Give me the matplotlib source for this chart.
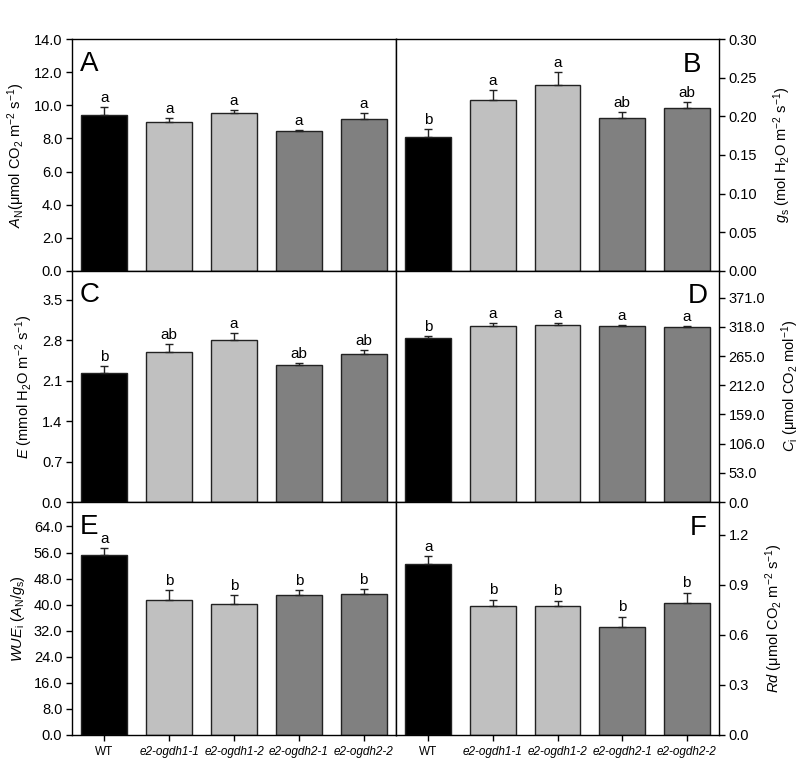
import matplotlib
matplotlib.use("Agg")
import matplotlib.pyplot as plt
import numpy as np

plt.rcParams['font.family'] = ['Liberation Sans', 'DejaVu Sans']
plt.rcParams['mathtext.fontset'] = 'custom'
plt.rcParams['mathtext.rm'] = 'Liberation Sans'
plt.rcParams['mathtext.it'] = 'Liberation Sans:italic'
plt.rcParams['mathtext.bf'] = 'Liberation Sans:bold'

genotypes = ["WT", "e2-ogdh1-1", "e2-ogdh1-2", "e2-ogdh2-1", "e2-ogdh2-2"]
bar_colors = ["#000000", "#c0c0c0", "#c0c0c0", "#808080", "#808080"]

an_mean = [9.45, 9.01, 9.56, 8.44, 9.15]
an_err = [0.43, 0.20, 0.16, 0.09, 0.41]
an_sig = ["a", "a", "a", "a", "a"]

gs_mean = [0.1727, 0.2216, 0.2407, 0.1983, 0.2113]
gs_err = [0.0108, 0.0122, 0.0164, 0.0069, 0.0069]
gs_sig = ["b", "a", "a", "ab", "ab"]

e_mean = [2.236, 2.586, 2.793, 2.362, 2.563]
e_err = [0.109, 0.144, 0.127, 0.046, 0.063]
e_sig = ["b", "ab", "a", "ab", "ab"]

ci_mean = [297.9, 320.3, 320.9, 319.1, 317.3]
ci_err = [3.6, 4.2, 4.2, 1.8, 2.4]
ci_sig = ["b", "a", "a", "a", "a"]

wue_mean = [55.1, 41.5, 40.3, 42.95, 43.3]
wue_err = [2.3, 3.1, 2.6, 1.45, 1.6]
wue_sig = ["a", "b", "b", "b", "b"]

rd_mean = [1.026, 0.773, 0.773, 0.644, 0.793]
rd_err = [0.046, 0.038, 0.032, 0.065, 0.060]
rd_sig = ["a", "b", "b", "b", "b"]

panels = [
    dict(mean=an_mean, err=an_err, sig=an_sig, ylim=14.0, ticks=np.arange(0, 14.01, 2.0), fmt="%.1f",
         label=r"$A_{\mathrm{N}}$(μmol CO$_2$ m$^{-2}$ s$^{-1}$)", letter="A", side="left", lx=0.025),
    dict(mean=gs_mean, err=gs_err, sig=gs_sig, ylim=0.30, ticks=np.arange(0, 0.301, 0.05), fmt="%.2f",
         label=r"$g_{\mathrm{s}}$ (mol H$_2$O m$^{-2}$ s$^{-1}$)", letter="B", side="right", lx=0.945),
    dict(mean=e_mean, err=e_err, sig=e_sig, ylim=4.0, ticks=np.arange(0, 3.51, 0.7), fmt="%.1f",
         label=r"$E$ (mmol H$_2$O m$^{-2}$ s$^{-1}$)", letter="C", side="left", lx=0.025),
    dict(mean=ci_mean, err=ci_err, sig=ci_sig, ylim=420.0, ticks=np.arange(0, 371.1, 53.0), fmt="%.1f",
         label=r"$C_{\mathrm{i}}$ (μmol CO$_2$ mol$^{-1}$)", letter="D", side="right", lx=0.965),
    dict(mean=wue_mean, err=wue_err, sig=wue_sig, ylim=71.5, ticks=np.arange(0, 64.1, 8.0), fmt="%.1f",
         label=r"$WUE_{\mathrm{i}}$ ($A_{\mathrm{N}}$/$g_{\mathrm{s}}$)", letter="E", side="left", lx=0.025),
    dict(mean=rd_mean, err=rd_err, sig=rd_sig, ylim=1.395, ticks=np.arange(0, 1.21, 0.3), fmt="%.1f",
         label=r"$Rd$ (μmol CO$_2$ m$^{-2}$ s$^{-1}$)", letter="F", side="right", lx=0.962),
]

fig = plt.figure(figsize=(8.0, 7.69), dpi=100)
W, H = 800.0, 769.0
xl, xm, xr = 72, 396, 719
rows = [(39.3, 270.7), (270.7, 502.0), (502.0, 735.0)]

x = np.arange(len(genotypes))
for i, p in enumerate(panels):
    r = i // 2
    c = i % 2
    top, bot = rows[r]
    x0 = xl if c == 0 else xm
    x1 = xm if c == 0 else xr
    ax = fig.add_axes([x0 / W, 1 - bot / H, (x1 - x0) / W, (bot - top) / H])
    ax.bar(x, p["mean"], width=0.71, color=bar_colors, edgecolor="#222222", linewidth=1.0, zorder=2)
    ax.errorbar(x, p["mean"], yerr=[np.zeros(len(x)), p["err"]], fmt="none", ecolor="#222222",
                elinewidth=1.0, capsize=3, capthick=1.0, zorder=3)
    for xi, m, e, s in zip(x, p["mean"], p["err"], p["sig"]):
        ax.annotate(s, (xi, m + e), xytext=(0, 1.5), textcoords="offset points",
                    ha="center", va="bottom", fontsize=11)
    ax.set_xlim(-0.5, 4.5)
    ax.set_ylim(0, p["ylim"])
    ax.set_yticks(p["ticks"])
    ax.set_yticklabels([p["fmt"] % t for t in p["ticks"]], fontsize=10.5)
    for sp in ax.spines.values():
        sp.set_linewidth(1.0)
        sp.set_color("black")
    if p["side"] == "right":
        ax.yaxis.tick_right()
        ax.yaxis.set_label_position("right")
        ax.set_ylabel(p["label"], fontsize=10.5, labelpad=10)
        ax.text(p["lx"], 0.945, p["letter"], transform=ax.transAxes, ha="right", va="top", fontsize=20)
    else:
        ax.set_ylabel(p["label"], fontsize=10.5, labelpad=5)
        ax.text(p["lx"], 0.95, p["letter"], transform=ax.transAxes, ha="left", va="top", fontsize=20)
    ax.tick_params(axis="y", direction="out", length=4, width=1.0, pad=3)
    if r == 2:
        ax.set_xticks(x)
        ax.set_xticklabels(genotypes, fontsize=8.5)
        for lab in ax.get_xticklabels()[1:]:
            lab.set_fontstyle("italic")
        ax.tick_params(axis="x", direction="out", length=4, width=1.0, pad=4)
    else:
        ax.set_xticks([])

fig.savefig("out.png", dpi=100)
